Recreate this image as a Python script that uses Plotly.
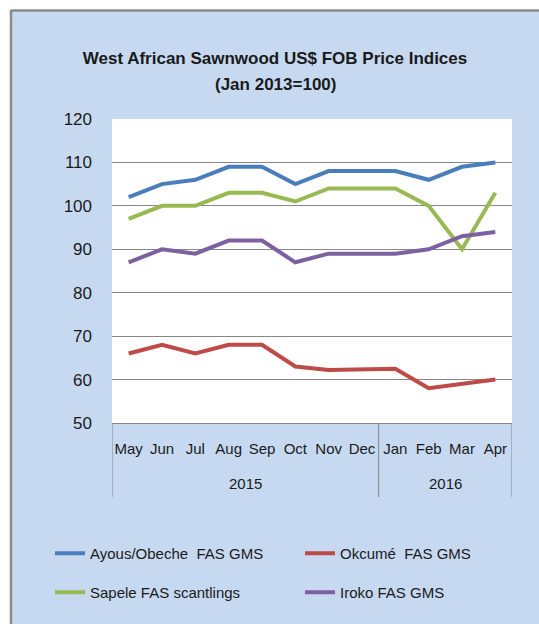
import plotly.graph_objects as go

months = ["May", "Jun", "Jul", "Aug", "Sep", "Oct", "Nov", "Dec", "Jan", "Feb", "Mar", "Apr"]
years = ["2015"] * 8 + ["2016"] * 4

ayous = [102, 105, 106, 109, 109, 105, 108, 108, 108, 106, 109, 110]
okoume = [66, 68, 66, 68, 68, 63, 62.2, 62.4, 62.5, 58, 59, 60]
sapele = [97, 100, 100, 103, 103, 101, 104, 104, 104, 100, 90, 103]
iroko = [87, 90, 89, 92, 92, 87, 89, 89, 89, 90, 93, 94]

names = ["Ayous/Obeche  FAS GMS", "Okcumé  FAS GMS", "Sapele FAS scantlings", "Iroko FAS GMS"]
colors = ["#4A7EBB", "#BE4B48", "#98B954", "#7D60A0"]
series = [ayous, okoume, sapele, iroko]
legends = ["legend", "legend", "legend2", "legend2"]

FONT = "Liberation Sans, Arial, sans-serif"
BG = "#C6D9F1"
TXT = "#1a1a1a"
AXC = "#868686"

W, H = 539, 624
L, R, T, B = 112, 27, 119, 201
pw, ph = W - L - R, H - T - B

def px(x):
    return (x - L) / pw

def py(y):
    return (H - B - y) / ph

fig = go.Figure()
for vals, nm, c, lg in zip(series, names, colors, legends):
    fig.add_trace(go.Scatter(
        x=months, y=vals, name=nm, mode="lines",
        line=dict(color=c, width=4), legend=lg,
    ))

# year group labels and dividers derived from the years list
annotations = []
shapes = []
groups = []
for i, yr in enumerate(years):
    if not groups or groups[-1][0] != yr:
        groups.append([yr, i, i])
    else:
        groups[-1][2] = i
for yr, i0, i1 in groups:
    annotations.append(dict(
        x=(i0 + i1) / 2, xref="x", y=py(483), yref="paper", text=yr,
        showarrow=False, xanchor="center", yanchor="middle",
        font=dict(size=15, family=FONT, color=TXT),
    ))
bounds = sorted({g[1] - 0.5 for g in groups} | {g[2] + 0.5 for g in groups})
for bx in bounds:
    shapes.append(dict(type="line", xref="x", yref="paper", x0=bx, x1=bx,
                       y0=0, y1=py(497), line=dict(color=AXC, width=1)))

annotations.append(dict(
    x=0.51, xref="paper" if False else "paper", y=py(85), yref="paper",
    text="<b>(Jan 2013=100)</b>", showarrow=False, xanchor="center", yanchor="middle",
    font=dict(size=17, family=FONT, color=TXT),
))
annotations[-1]["x"] = px(275)

shapes += [
    dict(type="rect", xref="paper", yref="paper", x0=px(0), x1=px(W), y0=py(0), y1=py(10),
         fillcolor="white", line=dict(width=0), layer="below"),
    dict(type="rect", xref="paper", yref="paper", x0=px(0), x1=px(10), y0=py(0), y1=py(H),
         fillcolor="white", line=dict(width=0), layer="below"),
    dict(type="line", xref="paper", yref="paper", x0=px(11), x1=px(W), y0=py(10.5), y1=py(10.5),
         line=dict(color="#8A8A8A", width=2.5), layer="below"),
    dict(type="line", xref="paper", yref="paper", x0=px(11), x1=px(11), y0=py(10), y1=py(H),
         line=dict(color="#8A8A8A", width=2.5), layer="below"),
]

leg_common = dict(
    orientation="h", xanchor="left", yanchor="top",
    bgcolor="rgba(0,0,0,0)", font=dict(size=15, family=FONT, color=TXT),
    entrywidth=205, entrywidthmode="pixels",
)

fig.update_layout(
    width=W, height=H,
    margin=dict(l=L, r=R, t=T, b=B, autoexpand=False),
    paper_bgcolor=BG, plot_bgcolor="white",
    font=dict(family=FONT, color=TXT),
    title=dict(
        text="<b>West African Sawnwood US$ FOB Price Indices</b>",
        x=275 / W, xref="container", xanchor="center",
        y=1 - 58 / H, yref="container", yanchor="middle",
        font=dict(size=17, family=FONT, color=TXT),
    ),
    xaxis=dict(
        type="category", tickangle=0, range=[-0.5, len(months) - 0.5],
        tickfont=dict(size=15, family=FONT, color=TXT),
        showline=True, linecolor=AXC, linewidth=1,
        ticks="", showgrid=False, ticklabelstandoff=12,
    ),
    yaxis=dict(
        range=[50, 120], dtick=10, tick0=50,
        tickfont=dict(size=17, family=FONT, color=TXT),
        showgrid=True, gridcolor=AXC, gridwidth=1,
        showline=False, zeroline=False, ticks="", ticklabelstandoff=19,
    ),
    legend=dict(x=px(50), y=py(537), **leg_common),
    legend2=dict(x=px(50), y=py(576), **leg_common),
    annotations=annotations,
    shapes=shapes,
    showlegend=True,
)

fig.write_html("out.html", config={"displayModeBar": False},
               post_script="document.body.style.margin='0';document.body.style.overflow='hidden';")
